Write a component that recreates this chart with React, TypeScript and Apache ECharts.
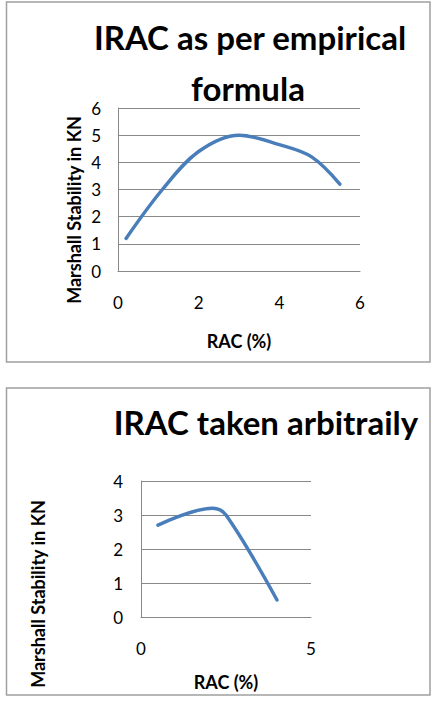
import React, { useEffect, useRef } from "react";
import * as echarts from "echarts";

// IRAC as per empirical formula
const racEmpirical = [0.2, 1.1, 2, 3, 4, 4.8, 5.5];
const stabilityEmpirical = [1.2, 3.0, 4.4, 5.0, 4.65, 4.2, 3.2];

// IRAC taken arbitrarily
const racArbitrary = [0.5, 2.1, 2.5, 4];
const stabilityArbitrary = [2.7, 3.2, 3.0, 0.5];

const titleEmpiricalLines = ["IRAC as per empirical", "formula"];
const titleArbitrary = "IRAC taken arbitraily";
const yAxisTitle = "Marshall Stability in KN";
const xAxisTitle = "RAC (%)";

const FONT = "Lato, 'Open Sans', sans-serif";
const LINE_COLOR = "#4A7EBB";
const GRID_COLOR = "#888888";

const pairs = (xs: number[], ys: number[]) => xs.map((x, i) => [x, ys[i]]);

export default function App() {
  const ref = useRef<HTMLDivElement>(null);

  useEffect(() => {
    if (!ref.current) return;
    const chart = echarts.init(ref.current, undefined, { renderer: "svg" });

    const axisLabel = (margin: number) => ({
      color: "#000",
      fontFamily: FONT,
      fontSize: 17,
      margin,
    });
    const axisLine = { show: true, lineStyle: { color: GRID_COLOR, width: 1 } };
    const splitLine = { show: true, lineStyle: { color: GRID_COLOR, width: 1 } };
    const nameStyle = {
      color: "#000",
      fontFamily: FONT,
      fontSize: 18,
      fontWeight: "bold" as const,
    };

    chart.setOption({
      animation: false,
      backgroundColor: "#fff",
      grid: [
        { left: 118, top: 108, width: 242, height: 163 },
        { left: 141, top: 481, width: 170, height: 136 },
      ],
      xAxis: [
        {
          type: "value",
          gridIndex: 0,
          min: 0,
          max: 6,
          interval: 2,
          axisLine,
          axisTick: { show: false },
          splitLine: { show: false },
          axisLabel: axisLabel(23),
          name: xAxisTitle,
          nameLocation: "middle",
          nameGap: 61,
          nameTextStyle: nameStyle,
        },
        {
          type: "value",
          gridIndex: 1,
          min: 0,
          max: 5,
          interval: 5,
          axisLine,
          axisTick: { show: false },
          splitLine: { show: false },
          axisLabel: axisLabel(23),
          name: xAxisTitle,
          nameLocation: "middle",
          nameGap: 56,
          nameTextStyle: nameStyle,
        },
      ],
      yAxis: [
        {
          type: "value",
          gridIndex: 0,
          min: 0,
          max: 6,
          interval: 1,
          axisLine,
          axisTick: { show: false },
          splitLine,
          axisLabel: axisLabel(17),
        },
        {
          type: "value",
          gridIndex: 1,
          min: 0,
          max: 4,
          interval: 1,
          axisLine,
          axisTick: { show: false },
          splitLine,
          axisLabel: axisLabel(18),
        },
      ],
      series: [
        {
          type: "line",
          xAxisIndex: 0,
          yAxisIndex: 0,
          data: pairs(racEmpirical, stabilityEmpirical),
          smooth: 0.35,
          symbol: "none",
          lineStyle: { color: LINE_COLOR, width: 3.5, cap: "round" },
        },
        {
          type: "line",
          xAxisIndex: 1,
          yAxisIndex: 1,
          data: pairs(racArbitrary, stabilityArbitrary),
          smooth: 0.35,
          symbol: "none",
          lineStyle: { color: LINE_COLOR, width: 3.5, cap: "round" },
        },
      ],
      graphic: [
        {
          type: "rect",
          shape: { x: 6.5, y: 2, width: 423.5, height: 360 },
          style: { fill: "none", stroke: "#a0a0a0", lineWidth: 1.5 },
          silent: true,
        },
        {
          type: "rect",
          shape: { x: 6.5, y: 388, width: 423.5, height: 307 },
          style: { fill: "none", stroke: "#a0a0a0", lineWidth: 1.5 },
          silent: true,
        },
        {
          type: "text",
          x: 250,
          y: 37,
          style: {
            text: titleEmpiricalLines[0],
            fill: "#000",
            font: `bold 33px ${FONT}`,
            textAlign: "center",
            textVerticalAlign: "middle",
          },
        },
        {
          type: "text",
          x: 248,
          y: 88,
          style: {
            text: titleEmpiricalLines[1],
            fill: "#000",
            font: `bold 33px ${FONT}`,
            textAlign: "center",
            textVerticalAlign: "middle",
          },
        },
        {
          type: "text",
          x: 266,
          y: 422,
          style: {
            text: titleArbitrary,
            fill: "#000",
            font: `bold 33px ${FONT}`,
            textAlign: "center",
            textVerticalAlign: "middle",
          },
        },
        {
          type: "text",
          x: 73.5,
          y: 210,
          rotation: Math.PI / 2,
          style: {
            text: yAxisTitle,
            fill: "#000",
            font: `bold 18px ${FONT}`,
            textAlign: "center",
            textVerticalAlign: "middle",
          },
        },
        {
          type: "text",
          x: 38,
          y: 594,
          rotation: Math.PI / 2,
          style: {
            text: yAxisTitle,
            fill: "#000",
            font: `bold 18px ${FONT}`,
            textAlign: "center",
            textVerticalAlign: "middle",
          },
        },
      ],
    });

    return () => chart.dispose();
  }, []);

  return (
    <div
      ref={ref}
      style={{ position: "absolute", left: 0, top: 0, width: 438, height: 702 }}
    />
  );
}
